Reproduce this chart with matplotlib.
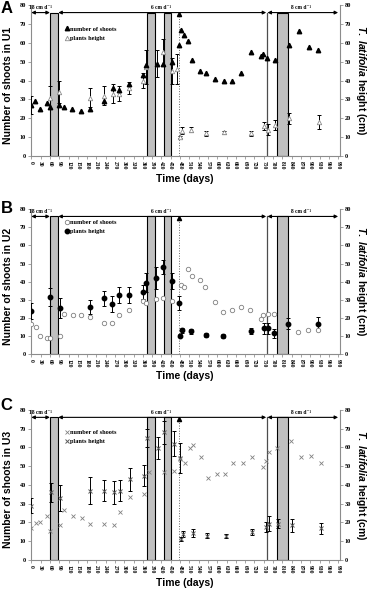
import matplotlib.pyplot as plt

plt.rcParams['mathtext.fontset'] = 'custom'
plt.rcParams['mathtext.it'] = 'Liberation Sans:italic:bold'
plt.rcParams['mathtext.rm'] = 'Liberation Sans:bold'

# x axis ticks (days)
day_ticks = list(range(0, 991, 30))
y_ticks = list(range(0, 81, 10))

# grey bars, drawdown line, switch line and inflow phases
pulse_start = [60, 372, 428, 794]
pulse_end = [87, 398, 452, 828]
drawdown_day = 478
switch_day = 760
phase_level = 76
phase_from = [0, 87, 762]
phase_to = [60, 758, 990]
phase_text = ['18 cm d⁻¹', '6 cm d⁻¹', '8 cm d⁻¹']
phase_text_x = [30, 418, 870]

# panel A (U1)
a_shoot_days = [0, 12, 28, 49, 59, 89, 105, 132, 159, 189, 234, 263, 284, 314, 360, 370,
                405, 424, 454, 477, 482, 493, 507, 517, 544, 564, 593, 622, 646, 676, 708,
                740, 748, 762, 787, 830, 864, 895, 926]
a_shoots = [27, 29, 25, 28, 26, 27, 26, 25, 24, 25, 29, 36, 35, 38, 43, 48,
            49, 49, 50, 59, 67, 64, 61, 51, 45, 44, 41, 40, 40, 44, 55,
            53, 54, 52, 51, 59, 66, 58, 56]
a_height_days = [0, 59, 89, 189, 234, 263, 284, 314, 360, 370, 405, 424, 454, 470, 480,
                 486, 516, 563, 622, 708, 752, 763, 787, 832, 929]
a_height = [27, 31, 34, 31, 32, 33, 33, 36, 40, 47, 49, 55, 45, 46, 10,
            13.5, 14, 12, 12.5, 12, 16, 14, 16.5, 20, 18]
a_height_err = [5, 6, 6, 5, 5, 5, 4, 3, 4, 9, 7, 7, 7, 8, 0.5,
                2, 1.5, 1.5, 1, 1.5, 2, 3, 2.5, 3, 3.5]

# panel B (U2)
b_shoot_days = [0, 14, 28, 49, 60, 92, 105, 134, 159, 189, 234, 261, 284, 316, 360, 370,
                403, 425, 455, 482, 493, 507, 518, 544, 560, 593, 620, 647, 677, 707,
                741, 749, 763, 784, 861, 893, 926]
b_shoots = [16.5, 15, 10, 9, 9, 10, 22, 21.5, 21.5, 20.5, 17.3, 17.3, 21.5, 24.3, 29.2, 28.3,
            30.3, 31.2, 29.2, 38, 37, 47, 43, 41, 37, 29, 23, 24.3, 26, 24.3,
            19.2, 21.5, 22, 22, 12, 13, 13]
b_height_days = [0, 60, 92, 189, 234, 261, 284, 316, 359, 370, 403, 425, 455, 477, 480,
                 485, 515, 563, 620, 708, 752, 763, 784, 827, 924]
b_height = [23.7, 31.6, 25.2, 26.1, 30.7, 27.6, 32.6, 32.6, 34.4, 39.5, 41.8, 48.2, 40.3, 28.3, 10,
            13, 12.5, 10.5, 9.8, 12.8, 14.3, 14.3, 11.5, 16.8, 16.8]
b_height_err = [4.5, 5, 5.5, 4, 4, 4.5, 4.5, 4.5, 4, 5.5, 6, 4, 4.5, 4, 0.8,
                1.5, 1.2, 1.2, 1, 1.5, 3, 3, 2.5, 3, 3.5]

# panel C (U3)
c_shoot_days = [0, 14, 28, 49, 60, 92, 105, 134, 162, 189, 236, 266, 285, 317, 364, 379,
                427, 459, 480, 496, 512, 523, 548, 569, 598, 625, 652, 684, 713, 747,
                757, 768, 792, 838, 869, 902, 934]
c_shoots = [16.8, 19.7, 20.3, 23.3, 15.5, 18.5, 26.4, 23.3, 22.6, 19.4, 19.4, 18.5, 25.6, 33.5, 35, 46.7,
            46.7, 47.6, 53.8, 51.5, 59.7, 61.5, 54.9, 43.5, 45.8, 45.8, 51.5, 51.5, 54.9, 49.6,
            52.7, 57.5, 59.7, 63.5, 54.9, 55.4, 51.5]
c_height_days = [0, 62, 92, 189, 236, 266, 285, 317, 364, 373, 408, 427, 459, 480, 482,
                 489, 521, 568, 627, 713, 757, 768, 795, 840, 934]
c_height = [29, 36, 33, 37, 37, 36, 37, 43, 45, 65, 59.6, 68, 62, 54.6, 11,
            14, 14.5, 13, 12.6, 14.9, 17.6, 19.4, 19.4, 18.5, 16.8]
c_height_err = [4, 5, 7, 7, 5.5, 6, 5.5, 6, 5.5, 5, 6, 6, 6.5, 8, 1,
                1.5, 2, 1.5, 1, 1.5, 2.5, 4, 2.5, 3.5, 3]

serif = ['Liberation Serif', 'DejaVu Serif']
sans = 'Liberation Sans'

fig = plt.figure(figsize=(3.7, 5.91), dpi=100)
boxes = [[0.083, 0.736, 0.835, 0.2555],
         [0.083, 0.401, 0.835, 0.245],
         [0.083, 0.0525, 0.835, 0.254]]
letter_top = [0.999, 0.66, 0.327]


def draw_panel(box, letter, ltop, unit, shoot_days, shoots, h_days, h, h_err,
               shoot_style, height_style, legend_y):
    ax = fig.add_axes(box)
    ax.set_xlim(-2, 995)
    ax.set_ylim(0, 80)

    # grey bars and lines
    for s, e in zip(pulse_start, pulse_end):
        ax.bar(s, phase_level, width=e - s, align='edge', color='#c0c0c0',
               edgecolor='black', linewidth=0.8, zorder=1)
    ax.plot([switch_day, switch_day], [0, phase_level], color='0.3', lw=0.9, zorder=1)
    ax.plot([drawdown_day, drawdown_day], [0, phase_level - 1], color='0.4', lw=0.7,
            ls=':', zorder=1)
    ax.plot([drawdown_day], [phase_level - 1], marker='^', color='black', ms=3, zorder=2)

    # inflow phases on top
    for x0, x1, t, tx in zip(phase_from, phase_to, phase_text, phase_text_x):
        ax.annotate('', xy=(x1, phase_level), xytext=(x0, phase_level),
                    arrowprops=dict(arrowstyle='<|-|>', color='black', lw=0.8,
                                    mutation_scale=5, shrinkA=0, shrinkB=0),
                    annotation_clip=False)
        ax.text(tx, phase_level + 1.2, t, ha='center', va='bottom', fontsize=4,
                family=serif, fontweight='bold')

    # data
    ax.errorbar(h_days, h, yerr=h_err, fmt='none', ecolor='black', elinewidth=0.7,
                capsize=1.5, capthick=0.7, zorder=3)
    ax.plot(h_days, h, linestyle='none', zorder=4, label='plants height', **height_style)
    ax.plot(shoot_days, shoots, linestyle='none', zorder=4, label='number of shoots',
            **shoot_style)

    handles, labels = ax.get_legend_handles_labels()
    ax.legend(handles[::-1], labels[::-1], loc='upper left', bbox_to_anchor=(0.1, legend_y),
              frameon=False, prop={'family': serif, 'size': 4.5, 'weight': 'bold'},
              handlelength=0.6, handletextpad=0.3, labelspacing=0.6, borderpad=0)

    ax.set_xticks(day_ticks)
    ax.set_xticklabels([str(d) for d in day_ticks], rotation=270, fontsize=4,
                       family=serif, fontweight='bold')
    ax.set_yticks(y_ticks)
    ax.set_yticklabels([str(v) for v in y_ticks], fontsize=4.5, family=serif,
                       fontweight='bold')
    ax.tick_params(length=2, width=0.5, color='0.5', pad=1.5)
    for side in ['left', 'bottom']:
        ax.spines[side].set_color('0.55')
        ax.spines[side].set_linewidth(0.8)
    ax.spines['top'].set_visible(False)
    ax.spines['right'].set_visible(False)

    ax.set_xlabel('Time (days)', fontsize=7.5, family=sans, fontweight='bold')
    ax.xaxis.set_label_coords(0.5, -0.12)
    ax.set_ylabel('Number of shoots in ' + unit, fontsize=7.5, family=sans,
                  fontweight='bold')
    ax.yaxis.set_label_coords(-0.058, 0.47)

    ax2 = ax.twinx()
    ax2.set_ylim(0, 80)
    ax2.set_yticks(y_ticks)
    ax2.set_yticklabels([str(v) for v in y_ticks], fontsize=4.5, family=serif,
                        fontweight='bold')
    ax2.tick_params(length=2, width=0.5, color='0.5', pad=1.5)
    for side in ['left', 'top', 'bottom']:
        ax2.spines[side].set_visible(False)
    ax2.spines['right'].set_color('0.55')
    ax2.spines['right'].set_linewidth(0.8)
    ax2.set_ylabel(r'$\it{T.\ latifolia}$ height (cm)', fontsize=7.5, family=sans,
                   fontweight='bold', rotation=270, va='center', ha='center')
    ax2.yaxis.set_label_coords(1.068, 0.5)

    fig.text(0.002, ltop, letter, fontsize=12, family=sans, fontweight='bold',
             ha='left', va='top')
    return ax


draw_panel(boxes[0], 'A', letter_top[0], 'U1', a_shoot_days, a_shoots,
           a_height_days, a_height, a_height_err,
           dict(marker='^', color='black', ms=3.2),
           dict(marker='^', mfc='white', mec='0.55', mew=0.6, ms=3.2), 0.88)
draw_panel(boxes[1], 'B', letter_top[1], 'U2', b_shoot_days, b_shoots,
           b_height_days, b_height, b_height_err,
           dict(marker='o', mfc='white', mec='0.5', mew=0.6, ms=3.2),
           dict(marker='o', color='black', ms=3.2), 0.95)
draw_panel(boxes[2], 'C', letter_top[2], 'U3', c_shoot_days, c_shoots,
           c_height_days, c_height, c_height_err,
           dict(marker='x', color='0.5', mew=0.6, ms=3.2),
           dict(marker='x', color='0.35', mew=0.7, ms=3), 0.89)

fig.savefig('out.png', dpi=100)
